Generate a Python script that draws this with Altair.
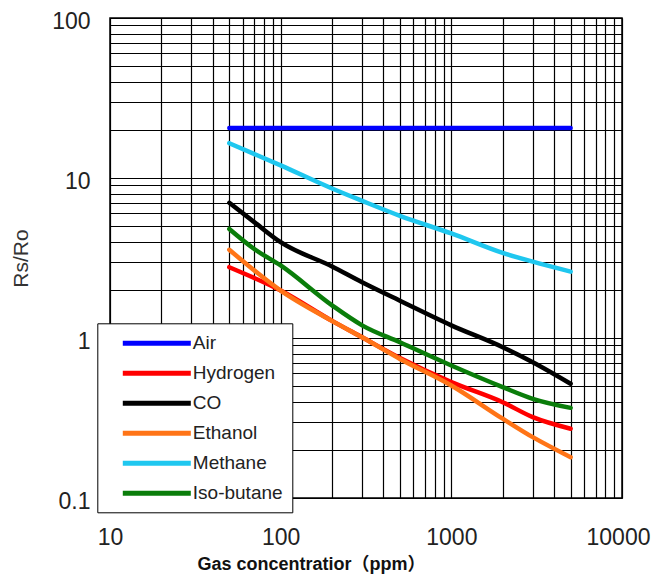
import altair as alt
import pandas as pd

series_names = ["Air", "Hydrogen", "CO", "Ethanol", "Methane", "Iso-butane"]
series_colors = ["#0000FF", "#FF0000", "#000000", "#FF7417", "#1FC7EF", "#0A7D0A"]

air_x = [50, 5000]
air_y = [20.5, 20.5]

hydrogen_x = [50, 100, 200, 300, 500, 1000, 2000, 3000, 5000]
hydrogen_y = [2.77, 1.98, 1.28, 1.01, 0.75, 0.53, 0.397, 0.32, 0.271]

co_x = [50, 70, 100, 200, 300, 500, 1000, 2000, 3000, 5000]
co_y = [7.0, 5.3, 3.97, 2.8, 2.23, 1.71, 1.2, 0.876, 0.706, 0.518]

ethanol_x = [50, 100, 200, 300, 500, 1000, 2000, 3000, 5000]
ethanol_y = [3.56, 1.98, 1.28, 1.01, 0.74, 0.505, 0.313, 0.24, 0.18]

methane_x = [50, 100, 200, 300, 500, 1000, 2000, 3000, 5000]
methane_y = [16.5, 12.0, 8.6, 7.2, 5.8, 4.5, 3.4, 3.0, 2.6]

isobutane_x = [50, 70, 100, 200, 300, 500, 1000, 2000, 3000, 5000]
isobutane_y = [4.8, 3.6, 2.84, 1.6, 1.2, 0.94, 0.673, 0.493, 0.417, 0.366]

x_grid = [10, 20, 30, 40, 50, 60, 70, 80, 90,
          100, 200, 300, 400, 500, 600, 700, 800, 900,
          1000, 2000, 3000, 4000, 5000, 6000, 7000, 8000, 9000, 10000]
y_grid = [0.1, 0.2, 0.3, 0.4, 0.5, 0.6, 0.7, 0.8, 0.9,
          1, 2, 3, 4, 5, 6, 7, 8, 9,
          10, 20, 30, 40, 50, 60, 70, 80, 90, 100]
x_labels = [10, 100, 1000, 10000]
y_labels = [0.1, 1, 10, 100]

rows = []
for name, xs, ys in [
    ("Air", air_x, air_y),
    ("Hydrogen", hydrogen_x, hydrogen_y),
    ("CO", co_x, co_y),
    ("Ethanol", ethanol_x, ethanol_y),
    ("Methane", methane_x, methane_y),
    ("Iso-butane", isobutane_x, isobutane_y),
]:
    for i, (xv, yv) in enumerate(zip(xs, ys)):
        rows.append({"gas": name, "ppm": xv, "rs": yv, "order": i})
df = pd.DataFrame(rows)

FONT = "Liberation Sans, Arial, Noto Sans CJK KR"

chart = alt.Chart(df).mark_line(strokeWidth=4.5, strokeCap="round", strokeJoin="round",
                                interpolate="monotone").encode(
    x=alt.X("ppm:Q",
            scale=alt.Scale(type="log", domain=[10, 10000], nice=False),
            axis=alt.Axis(values=x_grid, grid=True, ticks=False, domain=False,
                          labelExpr="indexof(" + str(x_labels) + ", datum.value) >= 0 ? '' + datum.value : ''",
                          labelFlush=False, labelOverlap=False, labelBound=False,
                          labelOffset={"condition": {"test": "datum.value == 10000", "value": -4}, "value": 0},
                          labelPadding=28, labelFontSize=23, labelFont=FONT, labelColor="#222222",
                          title="Gas concentratior（ppm）", titleFont=FONT, titleFontSize=18,
                          titleFontWeight="bold", titleColor="#111111",
                          titleX=201, titleY=71, titleAlign="center", titleBaseline="alphabetic",
                          gridColor="#000000", gridOpacity=1, gridWidth=1.2)),
    y=alt.Y("rs:Q",
            scale=alt.Scale(type="log", domain=[0.1, 100], nice=False),
            axis=alt.Axis(values=y_grid, grid=True, ticks=False, domain=False,
                          labelExpr="indexof(" + str(y_labels) + ", datum.value) >= 0 ? '' + datum.value : ''",
                          labelFlush=False, labelOverlap=False, labelBound=False,
                          labelPadding=20, labelFontSize=23, labelFont=FONT, labelColor="#222222",
                          labelBaseline="middle", labelOffset=3.5,
                          title="Rs/Ro", titleFont=FONT, titleFontSize=21, titleFontWeight="normal",
                          titleColor="#333333", titleAngle=270, titleX=-83, titleY=240,
                          titleAlign="center", titleBaseline="alphabetic",
                          gridColor="#000000", gridOpacity=1, gridWidth=1.2)),
    color=alt.Color("gas:N",
                    scale=alt.Scale(domain=series_names, range=series_colors),
                    legend=alt.Legend(title=None, orient="none", legendX=-12.7, legendY=305.3,
                                      symbolType="M-4,0H4", symbolSize=289, symbolStrokeWidth=5,
                                      symbolOffset=39.5, labelOffset=25,
                                      labelFontSize=19, labelFont=FONT, labelColor="#222222",
                                      rowPadding=9, padding=9,
                                      fillColor="white", strokeColor="black")),
    order="order:Q",
).properties(
    width=512, height=480,
    autosize=alt.AutoSizeParams(type="none"),
    padding={"left": 102, "top": 10, "right": 29, "bottom": 77},
).configure_view(stroke="black", strokeWidth=1.5)

chart.save("out.html", embed_options={"renderer": "svg", "actions": False})
